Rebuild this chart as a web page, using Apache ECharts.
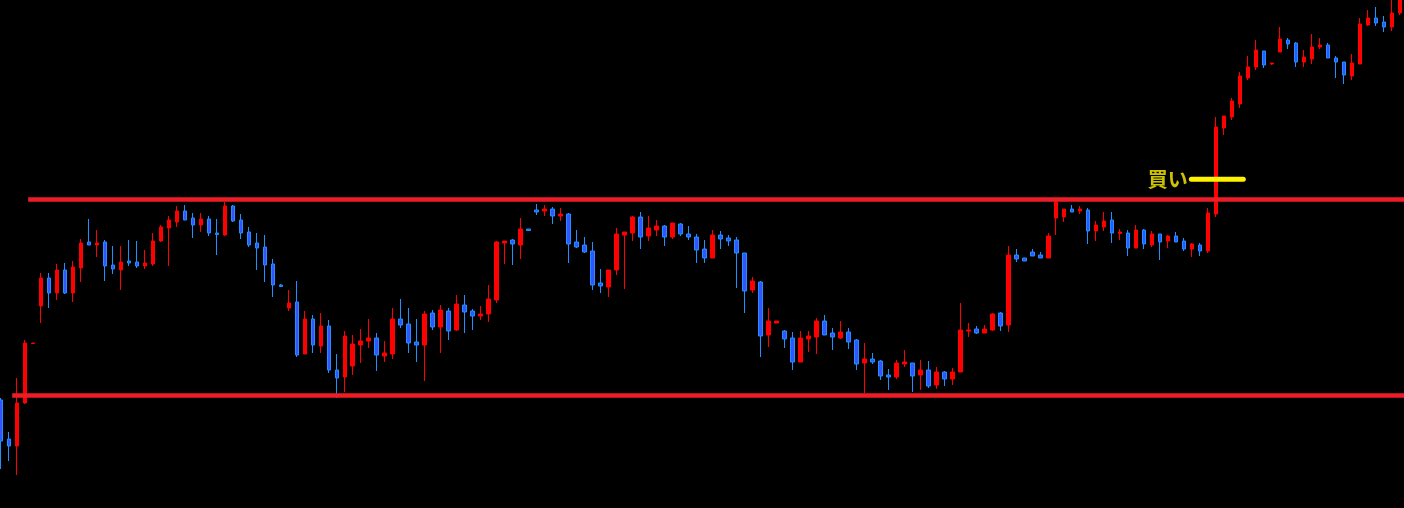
<!DOCTYPE html>
<html>
<head>
<meta charset="utf-8">
<script src="https://cdn.jsdelivr.net/npm/echarts@6/dist/echarts.min.js"></script>
<style>
  html, body { margin: 0; padding: 0; background: #000; overflow: hidden; }
  #chart { position: absolute; left: -3px; top: 0; width: 1407px; height: 508px; }
</style>
</head>
<body>
<div id="chart"></div>
<script>
  // OHLC candles: [open, close, low, high]
  const candles = [
    [100, 59, 31, 102], [61, 54, 39, 68], [54, 97, 25, 122], [97, 157, 96, 160], [156.5, 157, 156, 157],
    [194, 222, 177, 227], [222, 207, 192, 227], [207, 230, 200, 236], [230, 207, 206, 237], [207, 233, 198, 239],
    [232, 257, 218, 261], [258, 255, 255, 281], [255, 257, 243, 270], [258, 234, 219, 260], [235, 231, 226, 254],
    [230, 238, 210, 254], [239, 237, 234, 260], [238, 234, 232, 259], [234, 237, 231, 250], [236, 259, 234, 267],
    [259, 273, 258, 275], [272, 280, 234, 284], [278, 289, 273, 294], [289, 280, 280, 295], [282, 275, 262, 287],
    [275, 281, 268, 287], [281, 267, 264, 284], [267, 265.5, 245, 281], [265, 294, 264, 298], [294, 279, 278, 295],
    [280, 267, 261, 286], [268, 255, 253, 273], [257, 252, 230, 267], [253, 235, 218, 265], [236, 215, 203, 241],
    [215, 213.5, 213, 216], [192, 197, 189, 210], [198, 145, 143, 219], [146, 181, 146, 189], [181, 155, 147, 185],
    [154, 174, 147, 187], [174, 130, 127, 180], [130, 122, 102, 146], [123, 164, 108, 169], [134, 156, 125, 165],
    [155, 159, 137, 171], [159, 162, 152, 181], [162, 145, 129, 167], [144, 147, 138, 159], [146, 181, 141, 192],
    [181, 175, 172, 201], [176, 157, 147, 192], [158, 155, 138, 181], [155, 186, 119, 189], [187, 173, 170, 190],
    [173, 190, 147, 195], [189, 169, 160, 192], [170, 196, 169, 205], [195, 188, 167, 205], [189, 184, 170, 191],
    [184, 186, 180, 194], [186, 201, 178, 215], [200, 258, 197, 259], [257, 259, 236, 259], [260, 256, 235, 261],
    [255, 271, 241, 282], [271, 269.5, 269, 271], [290, 288, 285, 296], [289, 291, 284, 295], [291, 284, 276, 293],
    [284, 286, 279, 292], [286, 256, 237, 287], [258, 253, 252, 270], [255, 248, 247, 263], [249, 215, 210, 258],
    [217, 214, 207, 231], [213, 230, 203, 230], [230, 266, 225, 272], [265, 268, 211, 268], [267, 283, 259, 284],
    [283, 263, 251, 288], [264, 272, 259, 284], [270, 274, 264, 280], [274, 263, 254, 275], [263, 277, 261, 277],
    [276, 266, 264, 277], [266, 263, 260, 274], [263, 250, 237, 266], [251, 242, 237, 260], [242, 265, 242, 270],
    [265, 261, 251, 269], [262, 259, 254, 265], [260, 247, 212, 263], [247, 209, 187, 247], [210, 219, 207, 223],
    [218, 164, 143, 219], [165, 179, 153, 192], [177, 179, 177, 179], [169, 161, 152, 170], [162, 138, 130, 168],
    [138, 162, 138, 169], [161, 164, 148, 169], [163, 179, 146, 182], [179, 165, 165, 185], [167, 163, 150, 172],
    [162, 168, 161, 179], [168, 158, 151, 172], [160, 136, 130, 161], [137, 141, 107, 157], [141, 138, 136, 147],
    [139, 124, 120, 140], [125, 123, 110, 131], [123, 137, 121, 140], [136, 138, 133, 150], [137, 124, 108, 137],
    [125, 130, 110, 140], [130, 114, 112, 139], [115, 128, 111, 133], [128, 121, 114, 129], [121, 128, 115, 132],
    [128, 170, 128, 197], [169, 170, 163, 177], [171, 167, 166, 174], [167, 171, 167, 175], [170, 186, 169, 187],
    [187, 174, 169, 188], [175, 245, 168, 254], [245, 241, 238, 251], [242, 239, 239, 242], [248, 244, 244, 251],
    [245, 242, 242, 248], [242, 264, 242, 267], [282, 298, 265, 299], [283, 291, 278, 291], [291, 288, 288, 295],
    [289, 291, 286, 294], [290, 269, 256, 292], [269, 275, 259, 279], [273, 279, 269, 288], [280, 267, 257, 288],
    [266.5, 268, 260, 271], [267, 252, 244, 270], [252, 270, 252, 275], [270, 256, 251, 271], [255, 266, 253, 269],
    [266, 258, 240, 266], [259, 264, 252, 265], [264, 258, 258, 268], [259, 251, 249, 262], [251, 256, 243, 257],
    [255, 249, 244, 257], [249, 287, 247, 292], [286, 373, 283, 383], [372, 384, 365, 384], [383, 399, 380, 402],
    [396, 424, 392, 428], [422, 433, 420, 444], [433, 450, 430, 460], [449, 435, 432, 449], [436, 437, 435, 437],
    [448, 461, 448, 473], [460, 456, 451, 462], [457, 438, 433, 458], [438, 443, 433, 450], [441, 453, 436, 466],
    [453, 455, 451, 462], [455, 442, 442, 457], [442, 438, 422, 444], [438, 425, 416, 438], [424, 437, 420, 446],
    [436, 476, 436, 482], [475, 482, 474, 490], [482, 477, 474, 493], [478, 473, 468, 484], [473, 487, 469, 500],
    [487, 505, 485, 510]
  ]
  const bars = candles.map((c, i) => String(i))

  // horizontal levels: [start bar index, price]
  const resistance = [3.4, 300.5]
  const support = [1.4, 104.5]
  // buy marker: from / to bar index, price
  const buyLine = [148.9, 155.4, 320.7]
  const buyText = '買い'

  const chart = echarts.init(document.getElementById('chart'))
  const lastIdx = candles.length - 0.5
  chart.setOption({
    animation: false,
    backgroundColor: '#000',
    grid: {left: 0, right: 0, top: 0, bottom: 0},
    xAxis: [
      {type: 'category', data: bars, show: false, boundaryGap: true},
      {type: 'value', min: -0.5, max: lastIdx, show: false}
    ],
    yAxis: {type: 'value', min: -8, max: 500, show: false, splitLine: {show: false}},
    series: [
      {
        type: 'candlestick',
        data: candles,
        barWidth: 4,
        clip: true,
        itemStyle: {
          color: '#ff0000',
          borderColor: '#ff0000',
          color0: '#3355ff',
          borderColor0: '#1e90ff',
          borderWidth: 1
        }
      },
      {
        type: 'line',
        xAxisIndex: 1,
        data: [[resistance[0], resistance[1]], [lastIdx, resistance[1]]],
        symbol: 'none',
        lineStyle: {color: '#ee1c25', width: 4.5},
        z: 5
      },
      {
        type: 'line',
        xAxisIndex: 1,
        data: [[support[0], support[1]], [lastIdx, support[1]]],
        symbol: 'none',
        lineStyle: {color: '#ee1c25', width: 4.5},
        z: 5
      },
      {
        type: 'line',
        xAxisIndex: 1,
        data: [[buyLine[0], buyLine[2]], [buyLine[1], buyLine[2]]],
        symbol: 'none',
        lineStyle: {color: '#fff200', width: 5, cap: 'round'},
        z: 6
      },
      {
        type: 'scatter',
        xAxisIndex: 1,
        data: [[buyLine[0], buyLine[2]]],
        symbolSize: 1,
        itemStyle: {color: 'rgba(0,0,0,0)'},
        label: {
          show: true,
          position: 'left',
          distance: 3,
          formatter: buyText,
          color: '#fff200',
          fontSize: 20,
          fontWeight: 'bold',
          fontFamily: '"Noto Sans CJK JP", sans-serif'
        },
        z: 6
      }
    ]
  })
</script>
</body>
</html>
